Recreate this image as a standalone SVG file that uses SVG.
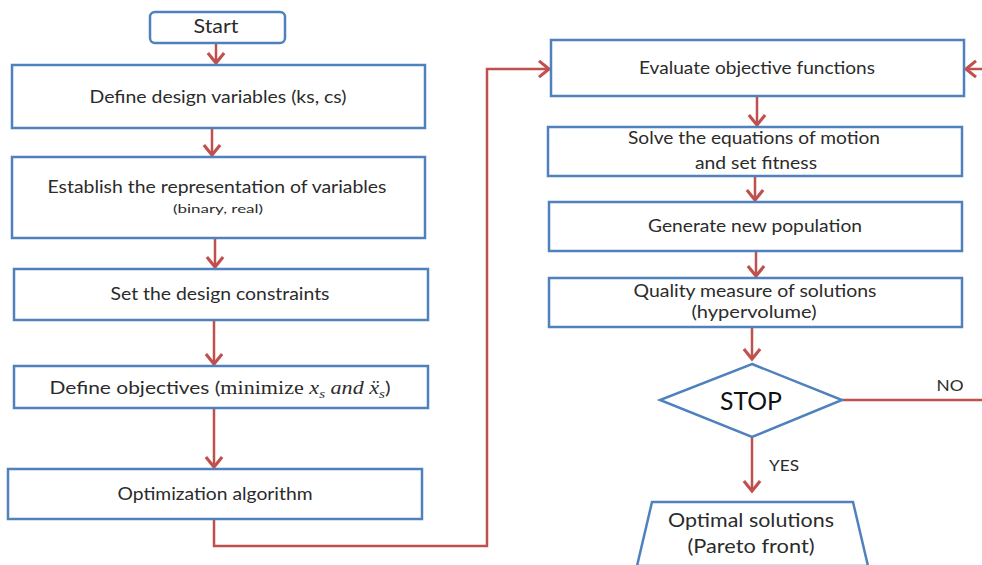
<svg xmlns="http://www.w3.org/2000/svg" width="982" height="565" viewBox="0 0 982 565">
<defs>
<style>
.box{fill:#fff;stroke:#4f81bd;stroke-width:2.5}
.con{fill:none;stroke:#c0504d;stroke-width:2.5}
.t{font-family:Lato,"Open Sans","Liberation Sans",sans-serif;font-size:18px;fill:#2b2b2b;text-anchor:middle}
.s{font-size:11px}
.m{font-family:"Liberation Serif","DejaVu Serif",serif;font-size:19px}
.i{font-style:italic}
</style>
<marker id="ah" markerUnits="userSpaceOnUse" markerWidth="20" markerHeight="20" viewBox="-10 -8 12 16" refX="0" refY="0" orient="auto">
<path d="M-8,-6.5 L0,0 L-8,6.5" fill="none" stroke="#c0504d" stroke-width="2.5"/>
</marker>
</defs>
<rect width="982" height="565" fill="#fff"/>
<g id="connectors">
<line class="con" x1="216" y1="43" x2="216" y2="63" marker-end="url(#ah)"/>
<line class="con" x1="212" y1="128" x2="212" y2="155" marker-end="url(#ah)"/>
<line class="con" x1="215" y1="238" x2="215" y2="267" marker-end="url(#ah)"/>
<line class="con" x1="214" y1="320" x2="214" y2="364" marker-end="url(#ah)"/>
<line class="con" x1="214" y1="408" x2="214" y2="467" marker-end="url(#ah)"/>
<polyline class="con" points="214,519 214,546 487,546 487,69 549,69" marker-end="url(#ah)"/>
<line class="con" x1="982" y1="69" x2="966" y2="69" marker-end="url(#ah)"/>
<line class="con" x1="757" y1="96" x2="757" y2="125" marker-end="url(#ah)"/>
<line class="con" x1="755" y1="176" x2="755" y2="200" marker-end="url(#ah)"/>
<line class="con" x1="756" y1="251" x2="756" y2="276" marker-end="url(#ah)"/>
<line class="con" x1="752" y1="327" x2="752" y2="359" marker-end="url(#ah)"/>
<line class="con" x1="842" y1="400" x2="982" y2="400"/>
<line class="con" x1="752" y1="437" x2="752" y2="491" marker-end="url(#ah)"/>
<text class="t" x="950" y="391" style="font-size:16px" textLength="27" lengthAdjust="spacingAndGlyphs">NO</text>
<text class="t" x="784" y="471" style="font-size:16px" textLength="30" lengthAdjust="spacingAndGlyphs">YES</text>
</g>
<g id="start">
<rect class="box" x="150" y="12" width="135" height="31" rx="5"/>
<text class="t" x="216" y="33" textLength="45" lengthAdjust="spacingAndGlyphs" style="font-size:19px">Start</text>
</g>
<g id="define-vars">
<rect class="box" x="12" y="65" width="413" height="63"/>
<text class="t" x="218" y="103" textLength="257" lengthAdjust="spacingAndGlyphs">Define design variables (ks, cs)</text>
</g>
<g id="establish">
<rect class="box" x="12" y="157" width="413" height="81"/>
<text class="t" x="217" y="193" textLength="339" lengthAdjust="spacingAndGlyphs">Establish the representation of variables</text>
<text class="t s" x="218" y="213" textLength="90" lengthAdjust="spacingAndGlyphs">(binary, real)</text>
</g>
<g id="constraints">
<rect class="box" x="14" y="269" width="414" height="51"/>
<text class="t" x="220" y="300" textLength="219" lengthAdjust="spacingAndGlyphs">Set the design constraints</text>
</g>
<g id="objectives">
<rect class="box" x="14" y="366" width="414" height="42"/>
<text class="t" x="220" y="394" textLength="341" lengthAdjust="spacingAndGlyphs">Define objectives (<tspan class="m">minimize </tspan><tspan class="m i">x</tspan><tspan class="m i" style="font-size:13px" dy="4">s</tspan><tspan class="m i" dy="-4"> and </tspan><tspan class="m i">ẍ</tspan><tspan class="m i" style="font-size:13px" dy="4">s</tspan><tspan dy="-4">)</tspan></text>
</g>
<g id="optimization">
<rect class="box" x="8" y="469" width="414" height="50"/>
<text class="t" x="215" y="500" textLength="195" lengthAdjust="spacingAndGlyphs">Optimization algorithm</text>
</g>
<g id="evaluate">
<rect class="box" x="551" y="40" width="413" height="56"/>
<text class="t" x="757" y="74" textLength="236" lengthAdjust="spacingAndGlyphs">Evaluate objective functions</text>
</g>
<g id="solve">
<rect class="box" x="548" y="127" width="414" height="49"/>
<text class="t" x="754" y="144" textLength="252" lengthAdjust="spacingAndGlyphs">Solve the equations of motion</text>
<text class="t" x="756" y="169" textLength="122" lengthAdjust="spacingAndGlyphs">and set fitness</text>
</g>
<g id="generate">
<rect class="box" x="549" y="202" width="413" height="49"/>
<text class="t" x="755" y="232" textLength="214" lengthAdjust="spacingAndGlyphs">Generate new population</text>
</g>
<g id="quality">
<rect class="box" x="549" y="278" width="413" height="49"/>
<text class="t" x="755" y="297" textLength="243" lengthAdjust="spacingAndGlyphs">Quality measure of solutions</text>
<text class="t" x="754" y="318" textLength="125" lengthAdjust="spacingAndGlyphs">(hypervolume)</text>
</g>
<g id="stop">
<polygon class="box" points="752,364 842,400 752,437 660,400"/>
<text class="t" x="751" y="410" style="font-size:25px;fill:#111" textLength="62" lengthAdjust="spacingAndGlyphs">STOP</text>
</g>
<g id="optimal">
<polygon class="box" points="652,502 853,502 868,566 637,566"/>
<text class="t" x="751" y="527" style="font-size:19px" textLength="166" lengthAdjust="spacingAndGlyphs">Optimal solutions</text>
<text class="t" x="751" y="553" style="font-size:19px" textLength="127" lengthAdjust="spacingAndGlyphs">(Pareto front)</text>
</g>
</svg>
